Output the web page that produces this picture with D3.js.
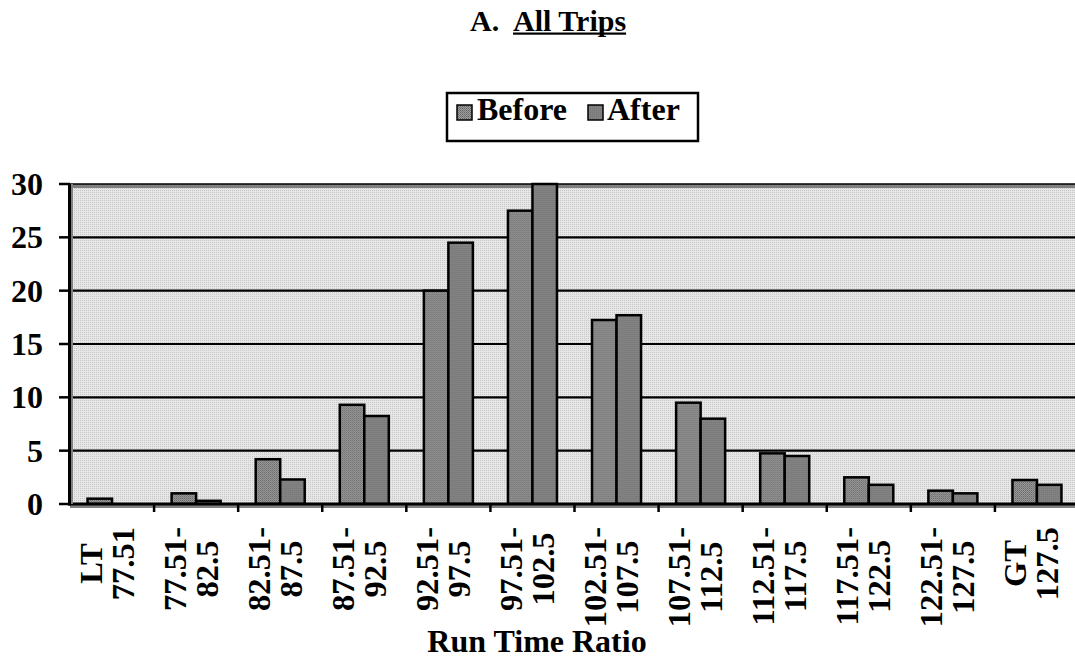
<!DOCTYPE html>
<html><head><meta charset="utf-8">
<script src="https://cdn.jsdelivr.net/npm/d3@7"></script>
<style>
html,body{margin:0;padding:0;background:#fff;}
svg{display:block;}
text{font-family:"Liberation Serif","Times New Roman",serif;font-weight:bold;fill:#000;}
</style></head>
<body>
<svg id="chart" width="1075" height="660"></svg>
<script>
const categories = [
  ["LT","77.51"],["77.51-","82.5"],["82.51-","87.5"],["87.51-","92.5"],
  ["92.51-","97.5"],["97.51-","102.5"],["102.51-","107.5"],["107.51-","112.5"],
  ["112.51-","117.5"],["117.51-","122.5"],["122.51-","127.5"],["GT","127.5"]
];
const seriesNames = ["Before","After"];
const beforeValues = [0.5,1.0,4.2,9.3,20.0,27.5,17.25,9.5,4.75,2.5,1.25,2.25];
const afterValues  = [0,0.3,2.3,8.25,24.5,30.0,17.7,8.0,4.5,1.8,1.0,1.8];
const yTicks = [0,5,10,15,20,25,30];
const titlePrefix = "A.";
const titleMain = "All Trips";
const xAxisTitle = "Run Time Ratio";

(function(){
const svg = d3.select("#chart");
const defs = svg.append("defs");
function pat(id, base, dot, dot2){
  const p = defs.append("pattern").attr("id",id).attr("width",2).attr("height",2).attr("patternUnits","userSpaceOnUse");
  p.append("rect").attr("width",2).attr("height",2).attr("fill",base);
  p.append("rect").attr("x",0).attr("y",0).attr("width",1).attr("height",1).attr("fill",dot);
  if(dot2) p.append("rect").attr("x",1).attr("y",1).attr("width",1).attr("height",1).attr("fill",dot2);
}
pat("bgP","#e6e6e6","#c8c8c8");
pat("befP","#9c9c9c","#666666","#7a7a7a");
pat("aftP","#828282","#767676");

const pL = 70, pR = 1079, pT = 184, pB = 504;
const x = d3.scaleBand().domain(d3.range(categories.length)).range([pL,pR]).paddingInner(0).paddingOuter(0);
const xs = d3.scaleBand().domain(seriesNames).range([0,x.bandwidth()]).paddingInner(0).paddingOuter(0.716);
const y = d3.scaleLinear().domain([0,30]).range([pB,pT]);

svg.append("rect").attr("x",pL).attr("y",pT).attr("width",pR-pL).attr("height",pB-pT).attr("fill","url(#bgP)");
svg.append("rect").attr("x",pL).attr("y",pT).attr("width",pR-pL).attr("height",4).attr("fill","#808080");
svg.append("line").attr("x1",pL).attr("x2",pR).attr("y1",pT).attr("y2",pT).attr("stroke","#000").attr("stroke-width",1.5);

svg.append("g").selectAll("line").data(yTicks.filter(v=>v>0&&v<30)).join("line")
  .attr("x1",pL).attr("x2",pR).attr("y1",d=>y(d)).attr("y2",d=>y(d))
  .attr("stroke","#000").attr("stroke-width",2.2);

const data = categories.map((c,i)=>({i, vals:[{s:"Before",v:beforeValues[i]},{s:"After",v:afterValues[i]}]}));
const g = svg.append("g").selectAll("g").data(data).join("g").attr("transform",d=>`translate(${x(d.i)},0)`);
g.selectAll("rect").data(d=>d.vals.filter(e=>e.v>0)).join("rect")
  .attr("x",e=>xs(e.s)).attr("width",xs.bandwidth())
  .attr("y",e=>y(e.v)).attr("height",e=>y(0)-y(e.v))
  .attr("fill",e=>e.s==="Before"?"url(#befP)":"url(#aftP)")
  .attr("stroke","#000").attr("stroke-width",2.5);

svg.append("rect").attr("x",pL).attr("y",pB+1).attr("width",pR-pL).attr("height",3).attr("fill","#808080");
svg.append("line").attr("x1",pL-1.5).attr("x2",pR).attr("y1",pB).attr("y2",pB).attr("stroke","#000").attr("stroke-width",3);
svg.append("rect").attr("x",pL+1).attr("y",pT).attr("width",2).attr("height",pB-pT).attr("fill","#808080");
svg.append("line").attr("x1",pL-0.5).attr("x2",pL-0.5).attr("y1",pT).attr("y2",pB+1.5).attr("stroke","#000").attr("stroke-width",3);

const yAxis = svg.append("g");
yAxis.selectAll("line").data(yTicks).join("line")
  .attr("x1",59).attr("x2",pL).attr("y1",d=>y(d)).attr("y2",d=>y(d)).attr("stroke","#000").attr("stroke-width",2.5);
yAxis.selectAll("text").data(yTicks).join("text")
  .attr("x",43).attr("y",d=>y(d)).attr("dy","0.34em").attr("text-anchor","end")
  .attr("font-size",32).text(d=>d);

svg.append("g").selectAll("line").data(d3.range(1,categories.length)).join("line")
  .attr("x1",d=>x(d)).attr("x2",d=>x(d)).attr("y1",pB).attr("y2",512)
  .attr("stroke","#000").attr("stroke-width",2.5);

const lab = svg.append("g").selectAll("g").data(categories).join("g")
  .attr("transform",(d,i)=>`translate(${x(i)+x.bandwidth()/2},527) rotate(-90)`);
lab.each(function(d){
  const gg = d3.select(this);
  const t1 = gg.append("text").attr("text-anchor","middle").attr("y",-10.5).attr("font-size",32.5).text(d[0]);
  const t2 = gg.append("text").attr("text-anchor","middle").attr("y",21.5).attr("font-size",32.5).text(d[1]);
  const m = Math.max(t1.node().getComputedTextLength(), t2.node().getComputedTextLength());
  t1.attr("x",-m/2); t2.attr("x",-m/2);
});

svg.append("text").attr("x",537).attr("y",652).attr("text-anchor","middle").attr("font-size",32).text(xAxisTitle);

const tt = svg.append("text").attr("x",470).attr("y",31).attr("font-size",30);
tt.append("tspan").text(titlePrefix);
const tm = tt.append("tspan").attr("x",513).text(titleMain);
const tlen = tm.node().getComputedTextLength();
svg.append("rect").attr("x",513).attr("y",32.5).attr("width",tlen).attr("height",2.2).attr("fill","#000");

const lg = svg.append("g");
lg.append("rect").attr("x",447).attr("y",93).attr("width",251).attr("height",48).attr("fill","#fff").attr("stroke","#000").attr("stroke-width",2.5);
const legX = [457,588];
const legT = [477,607];
seriesNames.forEach((s,i)=>{
  lg.append("rect").attr("x",legX[i]).attr("y",105).attr("width",15).attr("height",15)
    .attr("fill",i===0?"url(#befP)":"url(#aftP)").attr("stroke","#000").attr("stroke-width",1.5);
  lg.append("text").attr("x",legT[i]).attr("y",120).attr("font-size",32).text(s);
});
})();
</script>
</body></html>
